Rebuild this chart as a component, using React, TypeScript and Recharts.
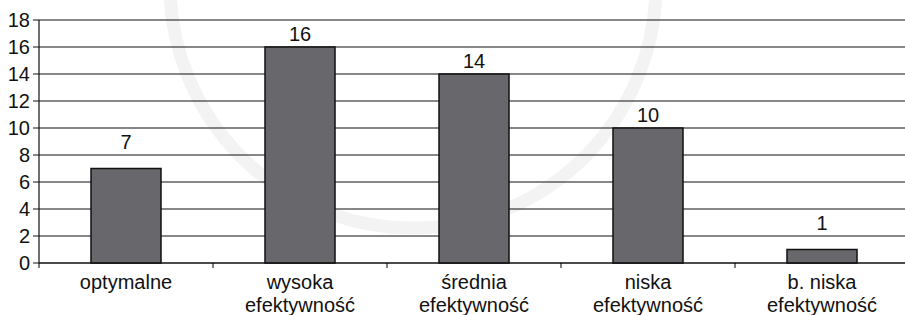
import React from "react";
import {
  BarChart,
  Bar,
  XAxis,
  YAxis,
  CartesianGrid,
  LabelList,
} from "recharts";

const categories = [
  "optymalne",
  "wysoka\nefektywność",
  "średnia\nefektywność",
  "niska\nefektywność",
  "b. niska\nefektywność",
];
const counts = [7, 16, 14, 10, 1];
const yTicks = [0, 2, 4, 6, 8, 10, 12, 14, 16, 18];

const data = categories.map((name, i) => ({ name, value: counts[i] }));

const FONT = "'Liberation Sans', Arial, sans-serif";

function CategoryTick(props: any) {
  const { x, y, payload, index } = props;
  const half = payload?.offset || 87;
  const lines = String(payload.value).split("\n");
  return (
    <g>
      <line x1={x - half} y1={y} x2={x - half} y2={y + 5} stroke="#000" />
      {index === categories.length - 1 && (
        <line x1={x + half} y1={y} x2={x + half} y2={y + 5} stroke="#000" />
      )}
      <text
        x={x}
        textAnchor="middle"
        fontSize={20}
        fontFamily={FONT}
        fill="#111"
      >
        {lines.map((l, i) => (
          <tspan key={i} x={x} y={y + 26 + i * 23}>
            {l}
          </tspan>
        ))}
      </text>
    </g>
  );
}

// label sits in the grid band just above the bar (next even gridline)
function ValueLabel(props: any) {
  const { x, y, width, height, value } = props;
  const v = Number(value);
  const perUnit = v ? height / v : 0;
  const gridTop = y - (2 * Math.ceil(v / 2) - v) * perUnit;
  return (
    <text
      x={x + width / 2}
      y={gridTop - 13 + 7}
      textAnchor="middle"
      fontSize={20}
      fontFamily={FONT}
      fill="#111"
    >
      {value}
    </text>
  );
}

export default function App() {
  return (
    <div
      style={{
        position: "absolute",
        left: 0,
        top: 0,
        width: 905,
        height: 315,
        overflow: "hidden",
        background: "#fff",
      }}
    >
      {/* faint watermark ring behind the chart */}
      <svg
        width={905}
        height={315}
        style={{ position: "absolute", left: 0, top: 0 }}
      >
        <circle
          cx={413}
          cy={-15}
          r={243}
          fill="none"
          stroke="#f3f3f3"
          strokeWidth={13}
        />
      </svg>
      <div style={{ position: "absolute", left: 0, top: 0 }}>
        <BarChart
          width={909}
          height={315}
          data={data}
          margin={{ top: 20, right: 0, bottom: 0, left: 0 }}
          barSize={70}
        >
          <CartesianGrid vertical={false} stroke="#111" strokeWidth={1.2} />
          <XAxis
            dataKey="name"
            interval={0}
            height={52}
            tickLine={false}
            tickSize={0}
            tickMargin={0}
            axisLine={{ stroke: "#111", strokeWidth: 1.2 }}
            tick={<CategoryTick />}
          />
          <YAxis
            width={39}
            domain={[0, 18]}
            ticks={yTicks}
            interval={0}
            tickSize={6}
            tickMargin={3}
            axisLine={{ stroke: "#111", strokeWidth: 1.2 }}
            tickLine={{ stroke: "#111" }}
            tick={{ fontSize: 20, fontFamily: FONT, fill: "#111" }}
          />
          <Bar
            dataKey="value"
            fill="#68686c"
            stroke="#111"
            strokeWidth={1.5}
            isAnimationActive={false}
          >
            <LabelList dataKey="value" content={<ValueLabel />} />
          </Bar>
        </BarChart>
      </div>
    </div>
  );
}
